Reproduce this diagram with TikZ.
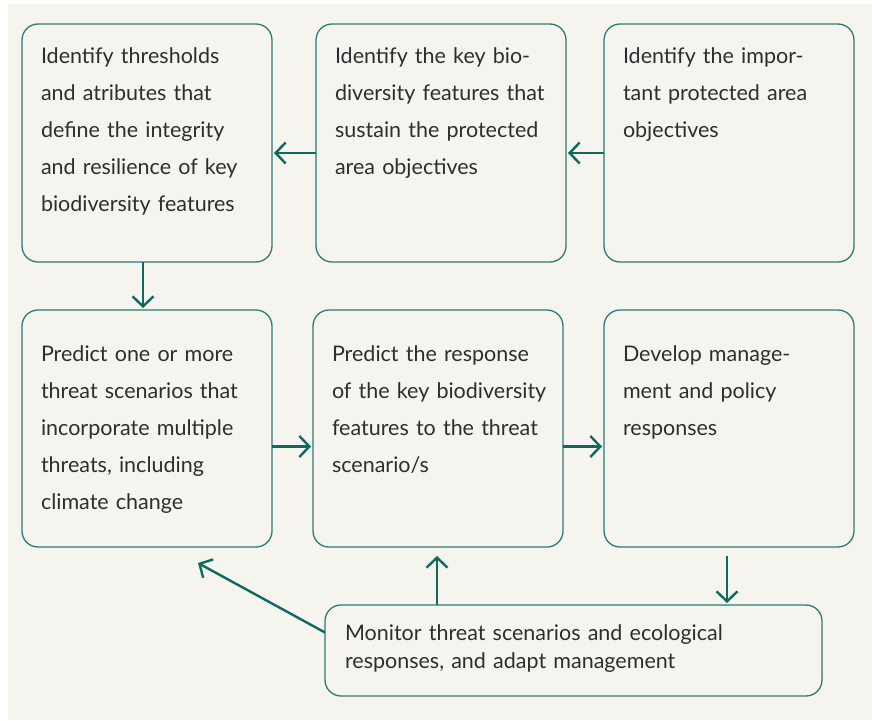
\documentclass[tikz,border=0pt]{standalone}
\usepackage{fontspec}
\setmainfont{Lato}
\usetikzlibrary{arrows.meta,positioning}
\definecolor{paper}{HTML}{F5F4EE}
\definecolor{frame}{HTML}{2A7D76}
\definecolor{flow}{HTML}{0E6A60}
\definecolor{ink}{HTML}{2E2E2E}
\tikzset{
	stage/.style={draw=frame, line width=1.3pt, rounded corners=16pt, fill=paper, text=ink,
		font=\fontsize{21.5}{37}\selectfont, align=left, inner ysep=0pt, inner xsep=19pt,
		outer sep=0pt, text width=212pt, anchor=north west},
	flowarrow/.style={draw=flow, line width=2.4pt, -{Straight Barb[length=10pt,width=21pt]}},
}
\begin{document}
\begin{tikzpicture}[x=1pt, y=-1pt]
		\useasboundingbox (0,0) rectangle (872,720);
		\fill[paper] (8,4) rectangle (872,720);
		% top row
		\node[stage, text height=39pt, text depth=199pt] (thresholds) at (22,24) {Identify thresholds\\and atributes that\\define the integrity\\and resilience of key\\biodiversity features};
		\node[stage, text height=39pt, text depth=199pt] (features) at (316,24) {Identify the key bio-\\diversity features that\\sustain the protected\\area objectives};
		\node[stage, text height=39pt, text depth=199pt] (objectives) at (604,24) {Identify the impor-\\tant protected area\\objectives};
		% middle row
		\node[stage, text height=51pt, text depth=186pt] (scenarios) at (22,310) {Predict one or more\\threat scenarios that\\incorporate multiple\\threats, including\\climate change};
		\node[stage, text height=51pt, text depth=186pt] (response) at (313,310) {Predict the response\\\mbox{of the key biodiversity}\\features to the threat\\scenario/s};
		\node[stage, text height=51pt, text depth=186pt] (policy) at (604,310) {Develop manage-\\ment and policy\\responses};
		% bottom
		\node[stage, font=\fontsize{21.5}{28}\selectfont, inner xsep=20pt, text width=457pt, text height=35pt, text depth=56pt] (monitor) at (325,605) {Monitor threat scenarios and ecological\\responses, and adapt management};
		\draw[flowarrow, shorten >=2pt] ([yshift=-10pt]features.west) -- ([yshift=-10pt]thresholds.east);
		\draw[flowarrow, shorten >=2pt] ([yshift=-10pt]objectives.west) -- ([yshift=-10pt]features.east);
		\draw[flowarrow, shorten >=2pt] ([xshift=-4pt]thresholds.south) -- ([xshift=-4pt]thresholds.south |- scenarios.north);
		\draw[flowarrow, shorten >=2pt] ([yshift=-18pt]scenarios.east) -- ([yshift=-18pt]scenarios.east -| response.west);
		\draw[flowarrow, shorten >=2pt] ([yshift=-18pt]response.east) -- ([yshift=-18pt]response.east -| policy.west);
		\draw[flowarrow, shorten >=2pt] ([xshift=-2pt,yshift=-9pt]policy.south) -- ([xshift=-2pt]policy.south |- monitor.north);
		\draw[flowarrow] ([xshift=-1pt]response.south |- monitor.north) -- ([xshift=-1pt,yshift=-9pt]response.south);
		\draw[flowarrow] ([yshift=18pt]monitor.west) -- ([xshift=-74pt,yshift=-16pt]scenarios.south east);
\end{tikzpicture}
\end{document}
